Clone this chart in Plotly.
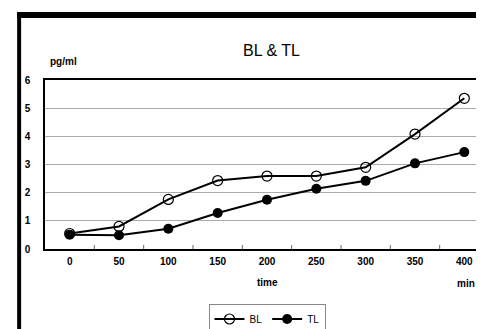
import plotly.graph_objects as go

times = [0, 50, 100, 150, 200, 250, 300, 350, 400]
bl_values = [0.55, 0.80, 1.76, 2.43, 2.59, 2.59, 2.90, 4.08, 5.35]
tl_values = [0.51, 0.49, 0.72, 1.28, 1.75, 2.14, 2.42, 3.04, 3.44]
boundaries = [25, 75, 125, 175, 225, 275, 325, 375]

# plot area in pixels (for placing frame bits in paper coords)
L, T, W, H = 37, 72, 446, 169


def fx(px):
    return (px - L) / W


def fy(py):
    return 1 - (py - T) / H


FONT = "Liberation Sans Narrow, Arial Narrow, Liberation Sans, Arial"

fig = go.Figure()

fig.add_trace(go.Scatter(
    x=times, y=bl_values, mode='lines+markers', name='BL',
    line=dict(color='black', width=2),
    marker=dict(symbol='circle-open', size=10, color='black', line=dict(width=1.2)),
))
fig.add_trace(go.Scatter(
    x=times, y=tl_values, mode='lines+markers', name='TL',
    line=dict(color='black', width=2),
    marker=dict(symbol='circle', size=10, color='black'),
))

# small inside ticks between categories
for b in boundaries:
    fig.add_shape(type='line', xref='x', yref='paper', x0=b, x1=b, y0=0, y1=4 / H,
                  line=dict(color='#666', width=1))

# outer frame like the scanned chart
fig.add_shape(type='rect', xref='paper', yref='paper', x0=fx(9), x1=fx(13), y0=fy(329), y1=fy(4),
              fillcolor='black', line=dict(width=0), layer='above')
fig.add_shape(type='rect', xref='paper', yref='paper', x0=fx(9), x1=fx(484), y0=fy(10), y1=fy(4),
              fillcolor='black', line=dict(width=0), layer='above')
fig.add_shape(type='rect', xref='paper', yref='paper', x0=fx(9), x1=fx(484), y0=fy(329), y1=fy(327),
              fillcolor='#222', line=dict(width=0), layer='above')

fig.add_annotation(text='BL & TL', xref='paper', yref='paper', x=fx(265), y=fy(32),
                   showarrow=False, font=dict(size=16, family=FONT, color='black'))
fig.add_annotation(text='<b>pg/ml</b>', xref='paper', yref='paper', x=fx(40), y=fy(46),
                   showarrow=False, font=dict(size=10, family=FONT, color='black'))
fig.add_annotation(text='<b>time</b>', xref='paper', yref='paper', x=fx(260), y=fy(282),
                   showarrow=False, font=dict(size=10, family=FONT, color='black'))
fig.add_annotation(text='<b>min</b>', xref='paper', yref='paper', x=fx(471), y=fy(283),
                   showarrow=False, font=dict(size=10, family=FONT, color='black'))

fig.update_layout(
    width=484, height=329,
    margin=dict(l=L, r=484 - L - W, t=T, b=329 - T - H),
    plot_bgcolor='white', paper_bgcolor='white',
    font=dict(family=FONT, color='black'),
    showlegend=True,
    legend=dict(
        orientation='h', x=fx(260), y=fy(311), xanchor='center', yanchor='middle',
        bordercolor='#888', borderwidth=1, font=dict(size=10, family=FONT, color='black'),
        itemwidth=30, tracegroupgap=0,
    ),
    xaxis=dict(
        range=[-25, 425], tickvals=times, ticktext=['<b>%d</b>' % t for t in times],
        showgrid=False, zeroline=False, showline=True, mirror=True,
        linecolor='black', linewidth=1.5, ticks='',
        ticklabelstandoff=2, tickfont=dict(size=10),
    ),
    yaxis=dict(
        range=[0, 6], tickvals=[0, 1, 2, 3, 4, 5, 6],
        ticktext=['<b>%d</b>' % v for v in range(7)],
        showgrid=True, gridcolor='#aaa', gridwidth=1, zeroline=False,
        showline=True, mirror=True, linecolor='black', linewidth=1.5,
        ticks='', ticklabelstandoff=11, tickfont=dict(size=10),
    ),
)

fig.write_html("out.html")
